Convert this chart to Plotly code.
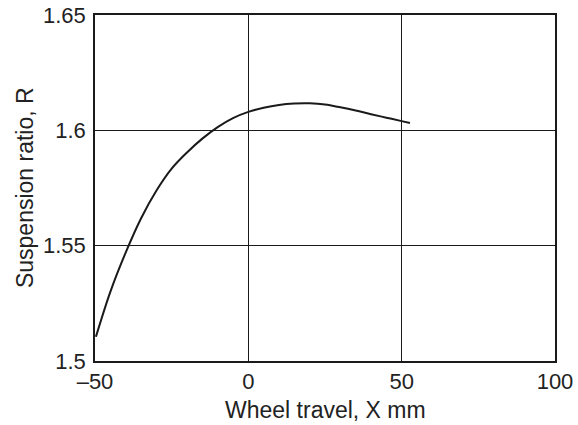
import plotly.graph_objects as go

wheel_travel = [-49.7, -45, -40, -35, -30, -25, -20, -15, -10, -5, 0, 5, 10, 15, 20, 25, 30, 35, 40, 45, 50, 52.7]
susp_ratio = [1.5105, 1.5300, 1.5470, 1.5618, 1.5738, 1.5834, 1.5904, 1.5964, 1.6014, 1.6053, 1.6080,
              1.6098, 1.6110, 1.6116, 1.6117, 1.6112, 1.6100, 1.6086, 1.6070, 1.6055, 1.6040, 1.6032]

x_tickvals = [-50, 0, 50, 100]
x_ticktext = ["\u201350", "0", "50", "100"]
y_tickvals = [1.5, 1.55, 1.6, 1.65]
y_ticktext = ["1.5", "1.55", "1.6", "1.65"]

FONT = "Liberation Sans, Arial"
INK = "#1a1a1a"

fig = go.Figure()
fig.add_trace(go.Scatter(x=wheel_travel, y=susp_ratio, mode="lines",
                         line=dict(color=INK, width=2, shape="spline", smoothing=1.0),
                         showlegend=False))

axis_common = dict(showgrid=True, gridcolor=INK, gridwidth=1.3,
                   showline=True, linecolor=INK, linewidth=1.6, mirror=True,
                   zeroline=False, ticks="", automargin=False,
                   ticklabeloverflow="allow",
                   tickfont=dict(family=FONT, size=22, color="#222"))

fig.update_layout(
    width=578, height=425,
    margin=dict(l=95, r=23, t=15, b=64),
    plot_bgcolor="white", paper_bgcolor="white",
    font=dict(family=FONT, color="#222"),
    annotations=[
        dict(text="Wheel travel, X mm", xref="paper", yref="paper", x=0.5, y=-0.142,
             xanchor="center", yanchor="middle", showarrow=False, font=dict(size=23)),
        dict(text="Suspension ratio, R", xref="paper", yref="paper", x=-0.152, y=0.5,
             xanchor="center", yanchor="middle", textangle=-90, showarrow=False, font=dict(size=23)),
    ],
)
fig.update_xaxes(range=[-50, 100], tickvals=x_tickvals, ticktext=x_ticktext, **axis_common)
fig.update_yaxes(range=[1.5, 1.65], tickvals=y_tickvals, ticktext=y_ticktext,
                 ticklabelstandoff=3, **axis_common)

# remove the page's default 8px body margin so the figure fills the 578x425 window exactly
fig.write_html("out.html", config={"displayModeBar": False},
               post_script="document.body.style.margin='0';")
